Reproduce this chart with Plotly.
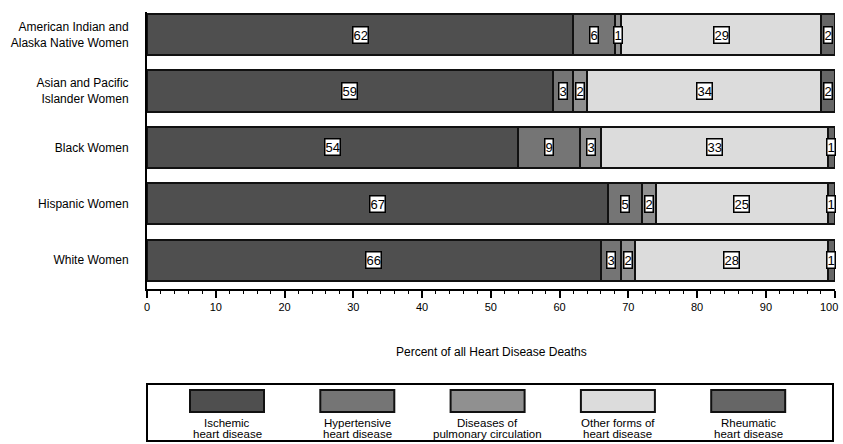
import plotly.graph_objects as go

groups = ["American Indian and<br>Alaska Native Women", "Asian and Pacific<br>Islander Women",
          "Black Women", "Hispanic Women", "White Women"]
series_names = ["Ischemic heart disease", "Hypertensive heart disease",
                "Diseases of pulmonary circulation", "Other forms of heart disease",
                "Rheumatic heart disease"]
legend_line1 = ["Ischemic", "Hypertensive", "Diseases of", "Other forms of", "Rheumatic"]
legend_line2 = ["heart disease", "heart disease", "pulmonary circulation", "heart disease", "heart disease"]
ischemic = [62, 59, 54, 67, 66]
hypertensive = [6, 3, 9, 5, 3]
pulmonary = [1, 2, 3, 2, 2]
other = [29, 34, 33, 25, 28]
rheumatic = [2, 2, 1, 1, 1]
values = [ischemic, hypertensive, pulmonary, other, rheumatic]
colors = ["#4f4f4f", "#757575", "#909090", "#dcdcdc", "#666666"]
x_ticks = [0, 10, 20, 30, 40, 50, 60, 70, 80, 90, 100]

FONT = "Liberation Sans, Arial, sans-serif"

# last tick label is drawn as an annotation (right-anchored) so it stays inside the page
tick_text = [str(t) for t in x_ticks]
last_tick_label = tick_text[-1]
tick_text[-1] = ""

fig = go.Figure()
for name, vals, col in zip(series_names, values, colors):
    fig.add_trace(go.Bar(
        y=groups, x=vals, name=name, orientation="h",
        marker=dict(color=col, line=dict(color="#111111", width=2)),
        width=0.73, cliponaxis=False, showlegend=False, hoverinfo="x+name",
    ))

annotations = []
for gi, g in enumerate(groups):
    start = 0
    for si, vals in enumerate(values):
        v = vals[gi]
        annotations.append(dict(
            x=start + v / 2, y=g, xref="x", yref="y", text=str(v), showarrow=False,
            font=dict(family=FONT, size=13, color="black"),
            bgcolor="white", bordercolor="black", borderwidth=1.5, borderpad=0,
        ))
        start += v

# custom legend / label positions (paper coords: plot area x 147..835 px, y 12..289 px)
PL, PW, PB, PH = 147, 688, 289, 277
def px(x):
    return (x - PL) / PW
def py(y):
    return (PB - y) / PH

annotations.append(dict(
    x=x_ticks[-1], y=py(307), xref="x", yref="paper", text=last_tick_label,
    showarrow=False, xanchor="right", yanchor="middle", xshift=5,
    font=dict(family=FONT, size=11, color="black"),
))

# axis title
annotations.append(dict(
    x=0.5, y=-0.228, xref="paper", yref="paper", text="Percent of all Heart Disease Deaths",
    showarrow=False, font=dict(family=FONT, size=12, color="black"),
    xanchor="center", yanchor="middle",
))

shapes = [dict(type="rect", xref="paper", yref="paper",
               x0=px(147), x1=px(833), y0=py(384), y1=py(441),
               line=dict(color="black", width=2), fillcolor="white", layer="below")]
for i, (col, l1, l2) in enumerate(zip(colors, legend_line1, legend_line2)):
    cx = 227 + i * 130.3
    shapes.append(dict(type="rect", xref="paper", yref="paper",
                       x0=px(cx - 37), x1=px(cx + 37), y0=py(390), y1=py(412),
                       line=dict(color="#111111", width=2), fillcolor=col))
    annotations.append(dict(x=px(cx), y=py(423), xref="paper", yref="paper", text=l1,
                            showarrow=False, xanchor="center", yanchor="middle",
                            font=dict(family=FONT, size=11.5, color="black")))
    annotations.append(dict(x=px(cx), y=py(434), xref="paper", yref="paper", text=l2,
                            showarrow=False, xanchor="center", yanchor="middle",
                            font=dict(family=FONT, size=11.5, color="black")))

fig.update_layout(
    width=843, height=444, barmode="stack",
    margin=dict(l=147, r=8, t=12, b=155, autoexpand=False),
    plot_bgcolor="white", paper_bgcolor="white",
    font=dict(family=FONT, size=12, color="black"),
    annotations=annotations, shapes=shapes, bargap=0.27,
)
fig.update_xaxes(
    range=[0, 100.05], tickvals=x_ticks, ticktext=tick_text, ticks="outside", ticklen=7,
    tickwidth=1.5, tickcolor="black", showline=True, linecolor="black", linewidth=2,
    showgrid=False, zeroline=False, tickfont=dict(family=FONT, size=11, color="black"),
    ticklabeloverflow="allow", automargin=False,
    minor=dict(dtick=2, ticks="outside", ticklen=3, tickwidth=1, tickcolor="black", showgrid=False),
)
fig.update_yaxes(
    categoryorder="array", categoryarray=groups, range=[4.51, -0.40],
    showline=True, linecolor="black", linewidth=2, ticks="", showgrid=False, automargin=False,
    zeroline=False, ticklabelstandoff=14, tickfont=dict(family=FONT, size=12, color="black"),
)

fig.write_html("out.html", config={"displayModeBar": False},
               post_script="document.body.style.margin='0px';document.body.style.overflow='hidden';")
